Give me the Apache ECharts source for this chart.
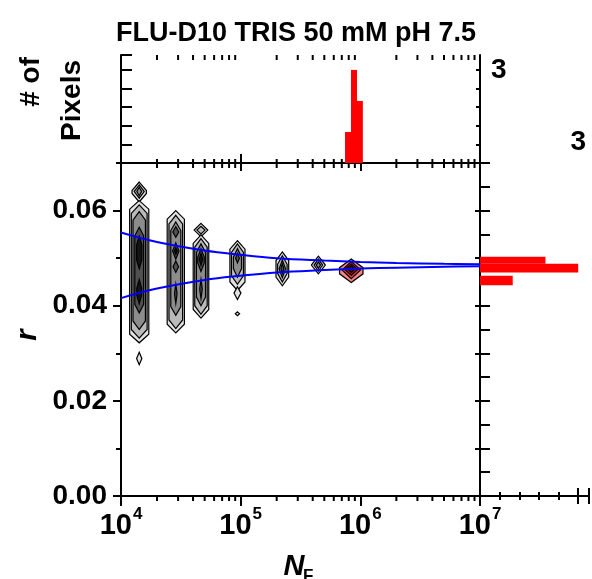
<!DOCTYPE html>
<html><head><meta charset="utf-8">
<script src="https://cdn.jsdelivr.net/npm/echarts@6/dist/echarts.min.js"></script>
<style>html,body{margin:0;padding:0;background:#fff}#c{width:592px;height:579px}</style>
</head><body><div id="c"></div>
<script>
// ---------------- data ----------------
const titleText = 'FLU-D10 TRIS 50 mM pH 7.5';
const xRange = [1e4, 1e7];
const rRange = [0, 0.07];
const topCountMax = 3.48;
const rightCountMax = 3.33;
const countLabel = '3';

// contour columns (N_F centres)
const contourN = [1.42e4, 2.87e4, 4.66e4, 9.4e4, 2.23e5, 4.46e5, 8.4e5];
// rings: [column, rTop, rBottom, half width (decades), level, palette]
const contourRings = [
  [0, 0.0660, 0.0618, 0.060, 0, 0],
  [0, 0.0621, 0.0322, 0.080, 0, 0],
  [0, 0.0302, 0.0276, 0.022, 0, 0],
  [0, 0.0654, 0.0626, 0.042, 1, 0],
  [0, 0.0612, 0.0332, 0.066, 1, 0],
  [0, 0.0649, 0.0631, 0.020, 2, 0],
  [0, 0.0598, 0.0350, 0.052, 2, 0],
  [0, 0.0565, 0.0385, 0.037, 3, 0],
  [0, 0.0546, 0.0478, 0.022, 4, 0],
  [0, 0.0455, 0.0404, 0.020, 4, 0],

  [1, 0.0600, 0.0343, 0.072, 0, 0],
  [1, 0.0590, 0.0352, 0.057, 1, 0],
  [1, 0.0576, 0.0380, 0.042, 2, 0],
  [1, 0.0566, 0.0544, 0.025, 3, 0],
  [1, 0.0532, 0.0498, 0.027, 3, 0],
  [1, 0.0494, 0.0470, 0.023, 3, 0],
  [1, 0.0445, 0.0405, 0.010, 3, 0],
  [1, 0.0522, 0.0508, 0.012, 4, 0],

  [2, 0.0573, 0.0545, 0.057, 0, 0],
  [2, 0.0549, 0.0374, 0.065, 0, 0],
  [2, 0.0567, 0.0551, 0.034, 1, 0],
  [2, 0.0541, 0.0382, 0.052, 1, 0],
  [2, 0.0530, 0.0400, 0.038, 2, 0],
  [2, 0.0520, 0.0472, 0.027, 3, 0],
  [2, 0.0455, 0.0415, 0.010, 3, 0],
  [2, 0.0510, 0.0485, 0.014, 4, 0],

  [3, 0.0537, 0.0432, 0.063, 0, 0],
  [3, 0.0440, 0.0413, 0.029, 0, 0],
  [3, 0.0387, 0.0379, 0.018, 0, 0],
  [3, 0.0530, 0.0445, 0.050, 1, 0],
  [3, 0.0520, 0.0460, 0.034, 2, 0],
  [3, 0.0510, 0.0490, 0.016, 3, 0],

  [4, 0.0513, 0.0442, 0.053, 0, 0],
  [4, 0.0505, 0.0450, 0.040, 1, 0],
  [4, 0.0496, 0.0459, 0.026, 2, 0],
  [4, 0.0488, 0.0468, 0.012, 3, 0],

  [5, 0.0504, 0.0467, 0.057, 0, 0],
  [5, 0.0498, 0.0473, 0.036, 1, 0],
  [5, 0.0492, 0.0479, 0.018, 2, 0],

  [6, 0.0498, 0.0449, 0.098, 0, 1],
  [6, 0.0493, 0.0457, 0.077, 1, 1],
  [6, 0.0488, 0.0464, 0.054, 2, 1],
  [6, 0.0484, 0.0470, 0.031, 3, 1]
];

// blue confidence curves
const fitN     = [1e4,    2e4,    5e4,    1e5,    2e5,    5e5,    1e6,    2e6,    5e6,    1e7];
const fitUpper = [0.0554, 0.0534, 0.0516, 0.0507, 0.0500, 0.0495, 0.0492, 0.0490, 0.0488, 0.0487];
const fitLower = [0.0416, 0.0436, 0.0454, 0.0463, 0.0470, 0.0475, 0.0478, 0.0480, 0.0482, 0.0483];

// top histogram (N_F)
const histNLo = [7.45e5, 8.36e5, 9.38e5];
const histNHi = [8.36e5, 9.38e5, 1.05e6];
const histNCount = [1, 3, 2];

// right histogram (r)
const histRLo = [0.0488, 0.0470, 0.0443];
const histRHi = [0.0503, 0.0488, 0.0463];
const histRCount = [2, 3, 1];

// ---------------- styling ----------------
const FONT = 'Liberation Sans, Arial, Helvetica, sans-serif';
const greyFill = ['#e2e2e2', '#bababa', '#8c8c8c', '#505050', '#141414'];
const redFill = ['#f38484', '#e63e3e', '#b01212', '#5a0000'];
const palettes = [greyFill, redFill];
const minorLogTicks = [];
for (let d = 4; d < 7; d++) for (let k = 2; k <= 9; k++) minorLogTicks.push(k * Math.pow(10, d));

const ringData = contourRings
  .map(r => [contourN[r[0]], r[1], r[2], r[3], r[4], r[5]])
  .sort((a, b) => a[4] - b[4]);

function lineStyleAx(w) { return { show: true, lineStyle: { color: '#000', width: w || 2 } }; }

const chart = echarts.init(document.getElementById('c'), null, { renderer: 'canvas' });

function logAxis(grid, pos, tickLen, inside, labels) {
  return {
    type: 'log', logBase: 10, gridIndex: grid, position: pos, min: xRange[0], max: xRange[1], splitNumber: 3,
    axisLine: lineStyleAx(2),
    axisTick: { show: true, inside: inside, length: tickLen, lineStyle: { color: '#000', width: 2 } },
    splitLine: { show: false },
    axisLabel: labels ? {
      show: true, margin: 10,
      formatter: v => '{b|10}{s|' + Math.round(Math.log10(v)) + '}',
      rich: {
        b: { fontFamily: FONT, fontWeight: 'bold', fontSize: 29, color: '#000', verticalAlign: 'bottom', lineHeight: 34 },
        s: { fontFamily: FONT, fontWeight: 'bold', fontSize: 17, color: '#000', verticalAlign: 'top', lineHeight: 34, padding: [0, 0, 0, 1] }
      }
    } : { show: false }
  };
}

function valAxis(grid, pos, min, max, interval, tickLen, inside, opts) {
  return Object.assign({
    type: 'value', gridIndex: grid, position: pos, min: min, max: max, interval: interval,
    axisLine: lineStyleAx(2),
    axisTick: { show: true, inside: inside, length: tickLen, lineStyle: { color: '#000', width: 2 } },
    splitLine: { show: false },
    axisLabel: { show: false }
  }, opts || {});
}

function onlyThree(v) { return Math.abs(v - 3) < 1e-6 ? countLabel : ''; }

const option = {
  animation: false,
  backgroundColor: '#fff',
  title: {
    text: titleText, left: 'center', top: 15,
    textStyle: { fontFamily: FONT, fontWeight: 'bold', fontSize: 27, color: '#000' }
  },
  grid: [
    { left: 121, top: 163, width: 359, height: 333 },
    { left: 121, top: 55, width: 359, height: 108 },
    { left: 480, top: 163, width: 111, height: 333 }
  ],
  xAxis: [
    logAxis(0, 'bottom', 10, false, true),
    logAxis(0, 'top', 8, true, false),
    logAxis(1, 'bottom', 9, true, false),
    logAxis(1, 'top', 8, true, false),
    valAxis(2, 'top', 0, rightCountMax, 3, 8, true, {
      axisLabel: { show: true, margin: 7, formatter: onlyThree, fontFamily: FONT, fontWeight: 'bold', fontSize: 28, color: '#000' }
    }),
    valAxis(2, 'top', 0, rightCountMax, 0.6, 4, true, { axisLine: { show: false } }),
    valAxis(2, 'bottom', 0, rightCountMax, 3, 8, true),
    valAxis(2, 'bottom', 0, rightCountMax, 0.6, 4, true, { axisLine: { show: false } })
  ],
  yAxis: [
    valAxis(0, 'left', rRange[0], rRange[1], 0.02, 8, false, {
      axisLabel: { show: true, margin: 14, showMaxLabel: false,
        formatter: v => { const i = Math.round(v / 0.02); return Math.abs(v - i * 0.02) < 1e-9 && i < 4 ? (i * 0.02).toFixed(2) : ''; },
        fontFamily: FONT, fontWeight: 'bold', fontSize: 28, color: '#000' }
    }),
    valAxis(0, 'left', rRange[0], rRange[1], 0.01, 5, false, { axisLine: { show: false } }),
    valAxis(1, 'left', 0, topCountMax, 0.6, 11, true),
    valAxis(1, 'right', 0, topCountMax, 0.6, 4, true, {
      axisLabel: { show: true, margin: 11, formatter: onlyThree, showMaxLabel: false, fontFamily: FONT, fontWeight: 'bold', fontSize: 28, color: '#000' }
    }),
    valAxis(2, 'left', rRange[0], rRange[1], 0.005, 10, true),
    valAxis(2, 'right', rRange[0], rRange[1], 0.01, 5, true)
  ],
  series: [
    {
      type: 'custom', name: 'contours', xAxisIndex: 0, yAxisIndex: 0, silent: true,
      data: ringData, encode: { x: 0, y: 1 },
      renderItem: (params, api) => {
        const N = api.value(0), rTop = api.value(1), rBot = api.value(2), hw = api.value(3);
        const lvl = api.value(4), pal = api.value(5);
        const t = Math.min((rTop - rBot) / 2, 0.0018);
        const f = Math.pow(10, hw);
        const pts = [
          api.coord([N, rTop]), api.coord([N * f, rTop - t]), api.coord([N * f, rBot + t]),
          api.coord([N, rBot]), api.coord([N / f, rBot + t]), api.coord([N / f, rTop - t])
        ];
        return { type: 'polygon', shape: { points: pts },
          style: { fill: palettes[pal][lvl], stroke: '#000', lineWidth: 1.2 } };
      }
    },
    {
      type: 'line', name: 'upper', xAxisIndex: 0, yAxisIndex: 0, smooth: 0.4, symbol: 'none', silent: true,
      data: fitN.map((n, i) => [n, fitUpper[i]]),
      lineStyle: { color: '#0000ff', width: 2 }, z: 5
    },
    {
      type: 'line', name: 'lower', xAxisIndex: 0, yAxisIndex: 0, smooth: 0.4, symbol: 'none', silent: true,
      data: fitN.map((n, i) => [n, fitLower[i]]),
      lineStyle: { color: '#0000ff', width: 2 }, z: 5
    },
    {
      type: 'custom', name: 'minorMain', xAxisIndex: 0, yAxisIndex: 0, silent: true,
      data: minorLogTicks.map(v => [v, rRange[0]]), encode: { x: 0, y: 1 },
      renderItem: (params, api) => {
        const v = api.value(0);
        const b = api.coord([v, rRange[0]]), t = api.coord([v, rRange[1]]);
        return { type: 'group', children: [
          { type: 'line', shape: { x1: b[0], y1: b[1], x2: b[0], y2: b[1] + 5 }, style: { stroke: '#000', lineWidth: 2 } },
          { type: 'line', shape: { x1: t[0], y1: t[1], x2: t[0], y2: t[1] + 5 }, style: { stroke: '#000', lineWidth: 2 } }
        ] };
      }
    },
    {
      type: 'custom', name: 'minorTop', xAxisIndex: 2, yAxisIndex: 2, silent: true,
      data: minorLogTicks.map(v => [v, 0]), encode: { x: 0, y: 1 },
      renderItem: (params, api) => {
        const v = api.value(0);
        const b = api.coord([v, 0]), t = api.coord([v, topCountMax]);
        return { type: 'group', children: [
          { type: 'line', shape: { x1: b[0], y1: b[1], x2: b[0], y2: b[1] - 4 }, style: { stroke: '#000', lineWidth: 2 } },
          { type: 'line', shape: { x1: t[0], y1: t[1], x2: t[0], y2: t[1] + 5 }, style: { stroke: '#000', lineWidth: 2 } }
        ] };
      }
    },
    {
      type: 'custom', name: 'histN', xAxisIndex: 2, yAxisIndex: 2, silent: true,
      data: histNLo.map((lo, i) => [lo, histNHi[i], histNCount[i]]), encode: { x: 0, y: 2 },
      renderItem: (params, api) => {
        const p0 = api.coord([api.value(0), api.value(2)]), p1 = api.coord([api.value(1), 0]);
        return { type: 'rect', shape: { x: p0[0], y: p0[1], width: p1[0] - p0[0], height: p1[1] - p0[1] },
          style: { fill: '#ff0000' } };
      }
    },
    {
      type: 'custom', name: 'histR', xAxisIndex: 4, yAxisIndex: 4, silent: true,
      data: histRLo.map((lo, i) => [histRCount[i], lo, histRHi[i]]), encode: { x: 0, y: 1 },
      renderItem: (params, api) => {
        const p0 = api.coord([0, api.value(2)]), p1 = api.coord([api.value(0), api.value(1)]);
        return { type: 'rect', shape: { x: p0[0], y: p0[1], width: p1[0] - p0[0], height: p1[1] - p0[1] },
          style: { fill: '#ff0000' } };
      }
    }
  ],
  graphic: [
    { type: 'text', x: 28, y: 335, rotation: Math.PI / 2,
      style: { text: 'r', font: 'italic bold 29px ' + FONT, fill: '#000', align: 'center', verticalAlign: 'middle' } },
    { type: 'text', x: 31, y: 57, rotation: Math.PI / 2,
      style: { text: '# of', font: 'bold 28px ' + FONT, fill: '#000', align: 'right', verticalAlign: 'middle' } },
    { type: 'text', x: 72, y: 60, rotation: Math.PI / 2,
      style: { text: 'Pixels', font: 'bold 28px ' + FONT, fill: '#000', align: 'right', verticalAlign: 'middle' } },
    { type: 'text', x: 294, y: 567,
      style: { text: 'N', font: 'italic bold 29px ' + FONT, fill: '#000', align: 'center', verticalAlign: 'middle' } },
    { type: 'text', x: 303, y: 576,
      style: { text: 'F', font: 'bold 17px ' + FONT, fill: '#000', align: 'left', verticalAlign: 'middle' } }
  ]
};
chart.setOption(option);
</script>
</body></html>
